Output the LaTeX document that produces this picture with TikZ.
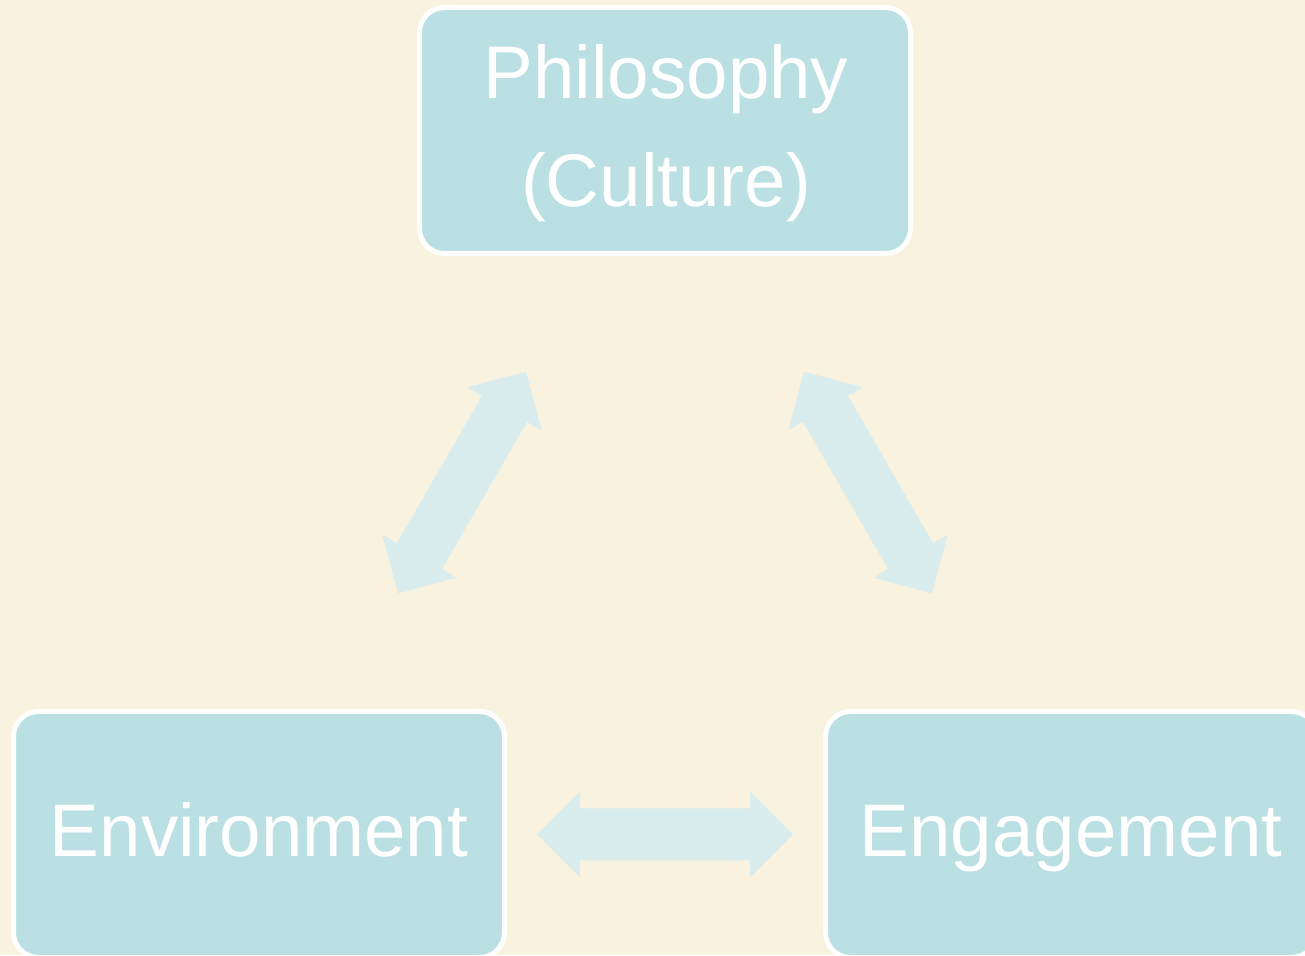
\documentclass[tikz,border=0pt]{standalone}
\usepackage{fontspec}
\setmainfont{Liberation Sans}
\usetikzlibrary{calc}
\definecolor{bgcream}{RGB}{249,242,222}
\definecolor{boxfill}{RGB}{187,224,227}
\definecolor{arrowfill}{RGB}{218,237,238}
\tikzset{
  box/.style={draw=white, line width=5pt, fill=boxfill, rounded corners=25pt,
    minimum width=491pt, minimum height=246pt, inner sep=0pt, outer sep=0pt,
    text=white, font=\fontsize{74.5}{109}\selectfont},
  boxtext/.style={text=white, font=\fontsize{74.5}{108}\selectfont, inner sep=0pt, align=center},
  dblarrow/.pic={\fill[arrowfill] (-128,0) -- (-85,43) -- (-85,26) -- (85,26) -- (85,43) -- (128,0)
     -- (85,-43) -- (85,-26) -- (-85,-26) -- (-85,-43) -- cycle;}
}
\begin{document}
\begin{tikzpicture}[x=1pt,y=1pt]
  \useasboundingbox (0,0) rectangle (1305,955);
  \clip (0,0) rectangle (1305,955);
  \fill[bgcream] (0,0) rectangle (1305,955);
  % boxes
  \node[box] (phil) at (665,824.5) {};
  \node[box, text height=54pt, text depth=9pt] (env) at (259,120.5) {Environment};
  \node[box, text height=54pt, text depth=9pt] (eng) at (1071,120.5) {Engagement};
  \node[boxtext] (philtext) at ([xshift=1pt,yshift=-2.5pt]phil.center) {Philosophy\\(Culture)};
  % block arrows
  \pic at ($(env.east)!0.5!(eng.west)$) {dblarrow};
  \pic[rotate=60] at ($(phil.south west)!0.5!(env.north east)$) {dblarrow};
  \pic[rotate=-60] at ($(phil.south east)!0.5!(eng.north west)$) {dblarrow};
\end{tikzpicture}
\end{document}
